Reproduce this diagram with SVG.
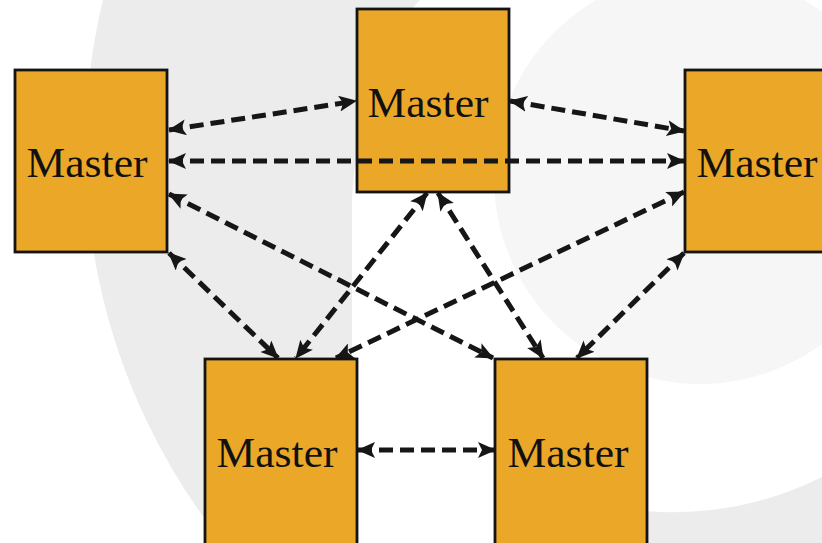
<svg xmlns="http://www.w3.org/2000/svg" width="822" height="543" viewBox="0 0 822 543">
  <style>
    .node rect { fill: #EBA728; stroke: #141414; stroke-width: 2.8; }
    .node text { font-family: "Liberation Serif", "DejaVu Serif", serif; font-size: 42px; fill: #111; text-anchor: middle; }
    .link { fill: none; stroke: #161616; stroke-width: 5; stroke-dasharray: 14 7; marker-start: url(#head); marker-end: url(#head); }
  </style>
  <defs>
    <marker id="head" viewBox="0 0 18 16" refX="17" refY="8" markerWidth="18" markerHeight="16" markerUnits="userSpaceOnUse" orient="auto-start-reverse">
      <path d="M0,0 L18,8 L0,16 L4,8 Z" fill="#161616"/>
    </marker>
  </defs>

  <!-- backdrop -->
  <g id="backdrop">
    <rect x="0" y="0" width="822" height="543" fill="#ffffff"/>
    <path d="M103,0 A632,632 0 0 0 223,543 L352,543 L352,200 Q360,60 420,0 Z" fill="#ececec"/>
    <path d="M600,543 L600,504 A332,332 0 0 0 822,477 L822,543 Z" fill="#ececec"/>
    <circle cx="700" cy="178" r="206" fill="#f6f6f6"/>
  </g>

  <g id="master-left" class="node">
    <rect x="15" y="70" width="152" height="182"/>
    <text x="87" y="177" textLength="121" lengthAdjust="spacingAndGlyphs">Master</text>
  </g>
  <g id="master-top" class="node">
    <rect x="357" y="9" width="152" height="183"/>
    <text x="428" y="117" textLength="121" lengthAdjust="spacingAndGlyphs">Master</text>
  </g>
  <g id="master-right" class="node">
    <rect x="685" y="70" width="152" height="182"/>
    <text x="757" y="177" textLength="121" lengthAdjust="spacingAndGlyphs">Master</text>
  </g>
  <g id="master-bottom-left" class="node">
    <rect x="205" y="359" width="152" height="190"/>
    <text x="277" y="467" textLength="121" lengthAdjust="spacingAndGlyphs">Master</text>
  </g>
  <g id="master-bottom-right" class="node">
    <rect x="495" y="359" width="152" height="190"/>
    <text x="568" y="467" textLength="121" lengthAdjust="spacingAndGlyphs">Master</text>
  </g>

  <g id="connectors">
    <line class="link" x1="169" y1="130" x2="356" y2="101"/>
    <line class="link" x1="510" y1="101" x2="684" y2="131"/>
    <line class="link" x1="169" y1="161" x2="684" y2="161"/>
    <line class="link" x1="169" y1="194" x2="493" y2="358"/>
    <line class="link" x1="169" y1="253" x2="278" y2="358"/>
    <line class="link" x1="427" y1="193" x2="296" y2="358"/>
    <line class="link" x1="438" y1="193" x2="543" y2="358"/>
    <line class="link" x1="684" y1="192" x2="336" y2="358"/>
    <line class="link" x1="684" y1="253" x2="577" y2="358"/>
    <line class="link" x1="358" y1="450" x2="495" y2="450"/>
  </g>
</svg>
